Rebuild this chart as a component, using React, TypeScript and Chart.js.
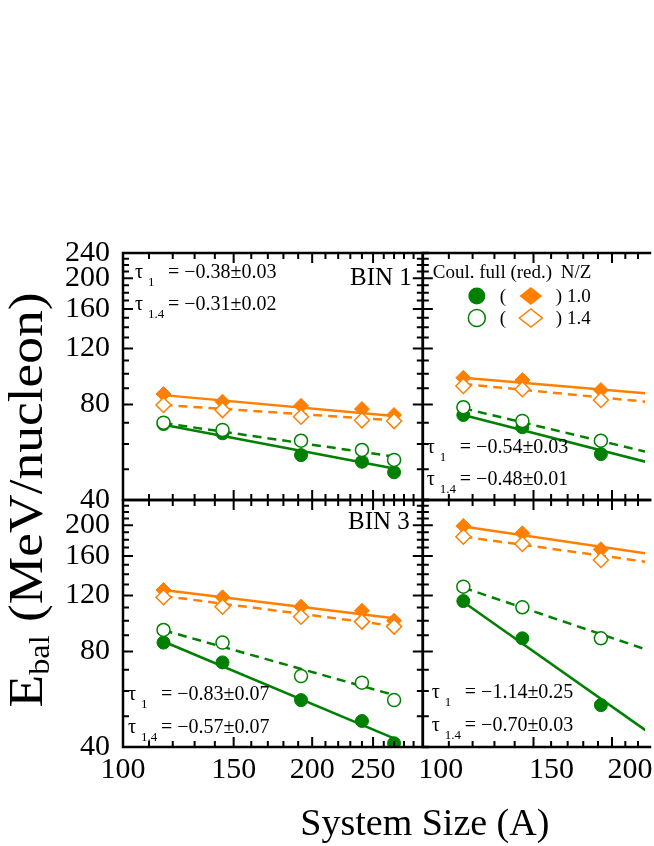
import React, { useEffect, useRef } from 'react';
import { Chart, registerables } from 'chart.js';

Chart.register(...registerables);

const FONT = "'Liberation Serif', 'Times New Roman', serif";
const GREEN = '#008000';
const ORANGE = '#ff8000';

// ---- System size (A) ----
const sysSizeLeft = [116, 144, 192, 240, 270];
const sysSizeRight = [116, 144, 192];
const fitSizeLeft = [116, 270];
const fitSizeRight = [116, 226];

// ---- BIN 1 (top left) ----
const bin1Full10 = [69.4, 64.9, 55.4, 52.8, 48.9];
const bin1Full14 = [70.1, 66.5, 61.5, 57.5, 53.5];
const bin1Red10 = [86.3, 81.6, 79.2, 77.4, 74.1];
const bin1Red14 = [79.7, 76.8, 73.2, 71.3, 70.9];
const bin1FitFull10 = [69.0, 50.3];
const bin1FitFull14 = [69.9, 54.8];
const bin1FitRed10 = [85.6, 73.6];
const bin1FitRed14 = [79.7, 71.3];

// ---- BIN 2 (top right) ----
const bin2Full10 = [74.1, 67.8, 55.8];
const bin2Full14 = [78.4, 71.0, 61.5];
const bin2Red10 = [97.1, 95.5, 88.8];
const bin2Red14 = [91.5, 89.3, 82.6];
const bin2FitFull10 = [74.1, 52.8];
const bin2FitFull14 = [77.8, 56.8];
const bin2FitRed10 = [97.1, 86.8];
const bin2FitRed14 = [92.8, 81.6];

// ---- BIN 3 (bottom left) ----
const bin3Full10 = [85.3, 73.9, 56.2, 48.3, 41.1];
const bin3Full14 = [93.5, 85.3, 66.9, 63.8, 56.2];
const bin3Red10 = [124.9, 118.5, 110.7, 107.5, 100.0];
const bin3Red14 = [118.5, 110.7, 102.9, 99.3, 95.8];
const bin3FitFull10 = [86.0, 42.6];
const bin3FitFull14 = [93.3, 58.3];
const bin3FitRed10 = [124.9, 101.7];
const bin3FitRed14 = [119.6, 96.3];

// ---- BIN 4 (bottom right) ----
const bin4Full10 = [115.3, 88.0, 54.2];
const bin4Full14 = [128.0, 110.2, 88.0];
const bin4Red10 = [198.8, 188.5, 167.8];
const bin4Red14 = [183.9, 174.4, 155.3];
const bin4FitFull10 = [114.6, 45.2];
const bin4FitFull14 = [127.1, 81.3];
const bin4FitRed10 = [197.9, 163.0];
const bin4FitRed14 = [184.0, 153.4];

// ---- Ticks ----
const xTicksLeft = [100, 110, 120, 130, 140, 150, 160, 170, 180, 190, 200, 210, 220, 230, 240, 250, 260, 270, 280, 290, 300];
const xMajorLeft = [100, 150, 200, 250, 300];
const xLabelsLeft = [100, 150, 200, 250];
const xTicksRight = [100, 110, 120, 130, 140, 150, 160, 170, 180, 190, 200, 210, 220];
const xMajorRight = [100, 150, 200];
const xLabelsRight = [100, 150, 200];
const yTicks = [40, 50, 60, 70, 80, 90, 100, 110, 120, 130, 140, 150, 160, 170, 180, 190, 200, 210, 220, 230, 240];
const yMajor = [40, 80, 120, 160, 200, 240];
const yLabelsTop = [40, 80, 120, 160, 200, 240];
const yLabelsBottom = [40, 80, 120, 160, 200];

// ---- Texts ----
const bin1Tau = ['= \u22120.38\u00b10.03', '= \u22120.31\u00b10.02'];
const bin2Tau = ['= \u22120.54\u00b10.03', '= \u22120.48\u00b10.01'];
const bin3Tau = ['= \u22120.83\u00b10.07', '= \u22120.57\u00b10.07'];
const bin4Tau = ['= \u22121.14\u00b10.25', '= \u22120.70\u00b10.03'];
const tauSubs = ['1', '1.4'];
const legendHeader = 'Coul. full (red.)';
const legendNZ = 'N/Z';
const legendRows = [') 1.0', ') 1.4'];
const xTitle = 'System Size (A)';
const yTitleMain = 'E';
const yTitleSub = 'bal';
const yTitleRest = ' (MeV/nucleon)';

const pts = (xs: number[], ys: number[]) => xs.map((x, i) => ({ x, y: ys[i] }));

function marker(data: any, xId: string, yId: string, color: string, style: string, filled: boolean, r: number) {
  return {
    data,
    xAxisID: xId,
    yAxisID: yId,
    showLine: false,
    pointStyle: style,
    pointRadius: r,
    pointBackgroundColor: filled ? color : '#ffffff',
    pointBorderColor: color,
    pointBorderWidth: filled ? 1 : 1.5,
    backgroundColor: filled ? color : '#ffffff',
    borderColor: color,
    order: filled ? 1 : 0,
    clip: 0,
  };
}

function fitLine(data: any, xId: string, yId: string, color: string, dashed: boolean) {
  return {
    data,
    xAxisID: xId,
    yAxisID: yId,
    showLine: true,
    borderColor: color,
    backgroundColor: color,
    borderWidth: 2.5,
    borderDash: dashed ? [9, 6] : [],
    pointRadius: 0,
    order: 2,
    clip: 0,
  };
}

function panel(xId: string, yId: string, xs: number[], fxs: number[],
  full10: number[], full14: number[], red10: number[], red14: number[],
  fFull10: number[], fFull14: number[], fRed10: number[], fRed14: number[]) {
  return [
    marker(pts(xs, red14), xId, yId, ORANGE, 'rectRot', false, 7.5),
    marker(pts(xs, full14), xId, yId, GREEN, 'circle', false, 6.5),
    marker(pts(xs, red10), xId, yId, ORANGE, 'rectRot', true, 7.5),
    marker(pts(xs, full10), xId, yId, GREEN, 'circle', true, 6.5),
    fitLine(pts(fxs, fRed10), xId, yId, ORANGE, false),
    fitLine(pts(fxs, fRed14), xId, yId, ORANGE, true),
    fitLine(pts(fxs, fFull10), xId, yId, GREEN, false),
    fitLine(pts(fxs, fFull14), xId, yId, GREEN, true),
  ];
}

function yScale(labels: number[]) {
  return {
    type: 'logarithmic',
    axis: 'y',
    position: 'left',
    stack: 'y',
    stackWeight: 1,
    min: 40,
    max: 240,
    grid: { display: false, drawTicks: false },
    border: { display: false },
    afterBuildTicks: (s: any) => { s.ticks = yTicks.map((v) => ({ value: v })); },
    afterFit: (s: any) => { s.width = 123; s.paddingTop = 0; s.paddingBottom = 0; },
    ticks: {
      autoSkip: false,
      padding: 13,
      color: '#000',
      font: { family: FONT, size: 30 },
      callback: (v: any) => (labels.includes(Number(v)) ? String(v) : ''),
    },
  };
}

function xScale(max: number, weight: number, tickVals: number[], labels: number[], labelOffset: number) {
  return {
    type: 'logarithmic',
    axis: 'x',
    position: 'bottom',
    stack: 'x',
    stackWeight: weight,
    min: 100,
    max,
    grid: { display: false, drawTicks: false },
    border: { display: false },
    afterBuildTicks: (s: any) => { s.ticks = tickVals.map((v) => ({ value: v })); },
    afterFit: (s: any) => { s.height = 60; s.paddingLeft = 0; s.paddingRight = 0; },
    ticks: {
      autoSkip: false,
      maxRotation: 0,
      minRotation: 0,
      padding: 5,
      labelOffset,
      color: '#000',
      font: { family: FONT, size: 30 },
      callback: (v: any) => (labels.includes(Number(v)) ? String(v) : ''),
    },
  };
}

function drawDiamond(ctx: CanvasRenderingContext2D, x: number, y: number, hw: number, hh: number) {
  ctx.beginPath();
  ctx.moveTo(x - hw, y);
  ctx.lineTo(x, y - hh);
  ctx.lineTo(x + hw, y);
  ctx.lineTo(x, y + hh);
  ctx.closePath();
}

const decorPlugin = {
  id: 'decor',
  afterDatasetsDraw(chart: any) {
    const ctx: CanvasRenderingContext2D = chart.ctx;
    const s = chart.scales;
    const panels = [
      { x: s.xL, y: s.yT, xt: xTicksLeft, xm: xMajorLeft, rightEdge: true },
      { x: s.xR, y: s.yT, xt: xTicksRight, xm: xMajorRight, rightEdge: false },
      { x: s.xL, y: s.yB, xt: xTicksLeft, xm: xMajorLeft, rightEdge: true },
      { x: s.xR, y: s.yB, xt: xTicksRight, xm: xMajorRight, rightEdge: false },
    ];
    ctx.save();
    ctx.strokeStyle = '#000';
    for (const p of panels) {
      const L = p.x.left, R = p.x.right, T = p.y.top, B = p.y.bottom;
      ctx.lineWidth = 2;
      ctx.lineCap = 'butt';
      ctx.beginPath();
      for (const v of p.xt) {
        if (v <= p.x.min || v >= p.x.max) continue;
        const px = p.x.getPixelForValue(v);
        const len = p.xm.includes(v) ? 10 : 6;
        ctx.moveTo(px, B); ctx.lineTo(px, B - len);
        ctx.moveTo(px, T); ctx.lineTo(px, T + len);
      }
      for (const v of yTicks) {
        if (v <= 40 || v >= 240) continue;
        const py = p.y.getPixelForValue(v);
        const len = yMajor.includes(v) ? 10 : 6;
        ctx.moveTo(L, py); ctx.lineTo(L + len, py);
        if (p.rightEdge) { ctx.moveTo(R, py); ctx.lineTo(R - len, py); }
      }
      ctx.stroke();
      ctx.lineWidth = 2.5;
      ctx.lineCap = 'square';
      ctx.beginPath();
      ctx.moveTo(L, T); ctx.lineTo(R + 5, T);
      ctx.moveTo(L, B); ctx.lineTo(R + 5, B);
      ctx.moveTo(L, T); ctx.lineTo(L, B);
      if (p.rightEdge) { ctx.moveTo(R, T); ctx.lineTo(R, B); }
      ctx.stroke();
    }

    // tau annotations
    ctx.fillStyle = '#000';
    ctx.textAlign = 'left';
    ctx.textBaseline = 'alphabetic';
    const tau = (x: number, y: number, sub: string, rest: string) => {
      ctx.font = `20px ${FONT}`;
      ctx.fillText('\u03c4', x, y);
      ctx.font = `13px ${FONT}`;
      ctx.fillText(sub, x + 13, y + 8);
      ctx.font = `20px ${FONT}`;
      ctx.fillText(rest, x + 33, y);
    };
    const xL = s.xL, xR = s.xR, yT = s.yT, yB = s.yB;
    tau(xL.left + 12, yT.top + 25, tauSubs[0], bin1Tau[0]);
    tau(xL.left + 12, yT.top + 57, tauSubs[1], bin1Tau[1]);
    tau(xR.left + 4, yT.bottom - 47, tauSubs[0], bin2Tau[0]);
    tau(xR.left + 4, yT.bottom - 15, tauSubs[1], bin2Tau[1]);
    tau(xL.left + 5, yB.bottom - 47, tauSubs[0], bin3Tau[0]);
    tau(xL.left + 5, yB.bottom - 14, tauSubs[1], bin3Tau[1]);
    tau(xR.left + 9, yB.bottom - 49, tauSubs[0], bin4Tau[0]);
    tau(xR.left + 9, yB.bottom - 16, tauSubs[1], bin4Tau[1]);

    // BIN labels
    ctx.font = `25px ${FONT}`;
    ctx.textAlign = 'right';
    ctx.fillText('BIN 1', xL.right - 11, yT.top + 32);
    ctx.fillText('BIN 3', xL.right - 13, yB.top + 29);

    // legend
    ctx.textAlign = 'left';
    const lx = xR.left, ty = yT.top;
    ctx.font = `19px ${FONT}`;
    ctx.fillText(legendHeader, lx + 10, ty + 25);
    ctx.fillText(legendNZ, lx + 138, ty + 25);
    legendRows.forEach((label, i) => {
      const cy = ty + 43 + i * 22;
      const filled = i === 0;
      ctx.beginPath();
      ctx.arc(lx + 54, cy, 8.5, 0, Math.PI * 2);
      if (filled) { ctx.fillStyle = GREEN; ctx.fill(); }
      else { ctx.strokeStyle = GREEN; ctx.lineWidth = 1.5; ctx.stroke(); }
      drawDiamond(ctx, lx + 108, cy, 11.5, 9);
      if (filled) { ctx.fillStyle = ORANGE; ctx.fill(); }
      else { ctx.strokeStyle = ORANGE; ctx.lineWidth = 1.5; ctx.stroke(); }
      ctx.fillStyle = '#000';
      ctx.font = `19px ${FONT}`;
      ctx.fillText('(', lx + 77, cy + 6);
      ctx.fillText(label, lx + 133, cy + 6);
    });

    // x title
    ctx.font = `38px ${FONT}`;
    ctx.textAlign = 'center';
    ctx.fillText(xTitle, xL.right + 2, 835);

    // y title (rotated)
    ctx.save();
    const cy = (yT.top + yB.bottom) / 2;
    ctx.translate(42, cy);
    ctx.rotate(-Math.PI / 2);
    ctx.textAlign = 'left';
    ctx.font = `48px ${FONT}`;
    const wE = ctx.measureText(yTitleMain).width;
    const wR = ctx.measureText(yTitleRest).width;
    ctx.font = `29px ${FONT}`;
    const wS = ctx.measureText(yTitleSub).width;
    const total = wE + wS + wR;
    const sx = 415 / total;
    ctx.scale(sx, 1);
    let x0 = -total / 2;
    ctx.font = `48px ${FONT}`;
    ctx.fillText(yTitleMain, x0, 0);
    x0 += wE;
    ctx.font = `29px ${FONT}`;
    ctx.fillText(yTitleSub, x0, 7);
    x0 += wS;
    ctx.font = `48px ${FONT}`;
    ctx.fillText(yTitleRest, x0, 0);
    ctx.restore();

    ctx.restore();
  },
};

export default function App() {
  const ref = useRef<HTMLCanvasElement | null>(null);
  useEffect(() => {
    if (!ref.current) return;
    const datasets = [
      ...panel('xL', 'yT', sysSizeLeft, fitSizeLeft, bin1Full10, bin1Full14, bin1Red10, bin1Red14, bin1FitFull10, bin1FitFull14, bin1FitRed10, bin1FitRed14),
      ...panel('xR', 'yT', sysSizeRight, fitSizeRight, bin2Full10, bin2Full14, bin2Red10, bin2Red14, bin2FitFull10, bin2FitFull14, bin2FitRed10, bin2FitRed14),
      ...panel('xL', 'yB', sysSizeLeft, fitSizeLeft, bin3Full10, bin3Full14, bin3Red10, bin3Red14, bin3FitFull10, bin3FitFull14, bin3FitRed10, bin3FitRed14),
      ...panel('xR', 'yB', sysSizeRight, fitSizeRight, bin4Full10, bin4Full14, bin4Red10, bin4Red14, bin4FitFull10, bin4FitFull14, bin4FitRed10, bin4FitRed14),
    ];
    const chart = new Chart(ref.current, {
      type: 'scatter',
      data: { datasets } as any,
      options: {
        responsive: false,
        animation: false,
        devicePixelRatio: 1,
        events: [],
        layout: { padding: { top: 253, left: 0, right: 0, bottom: 39 } },
        plugins: { legend: { display: false }, tooltip: { enabled: false }, title: { display: false } },
        scales: {
          yB: yScale(yLabelsBottom),
          yT: yScale(yLabelsTop),
          xL: xScale(300, 305, xTicksLeft, xLabelsLeft, 0),
          xR: xScale(225.7, 226, xTicksRight, xLabelsRight, 18),
        } as any,
      },
      plugins: [decorPlugin],
    } as any);
    return () => chart.destroy();
  }, []);
  return (
    <div style={{ position: 'fixed', left: 0, top: 0, width: 654, height: 846, background: '#fff', overflow: 'hidden' }}>
      <canvas ref={ref} width={654} height={846} style={{ display: 'block', width: 654, height: 846 }} />
    </div>
  );
}
